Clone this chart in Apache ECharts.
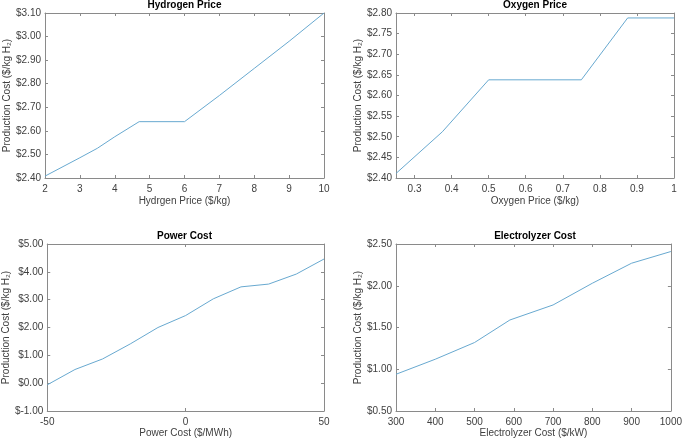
<!DOCTYPE html>
<html>
<head>
<meta charset="utf-8">
<script src="https://cdn.jsdelivr.net/npm/echarts@6/dist/echarts.min.js"></script>
<style>html,body{margin:0;padding:0;background:#fff}#c{width:685px;height:439px}</style>
</head>
<body>
<div id="c"></div>
<script>
// ---- Data ----
const titles = ['Hydrogen Price', 'Oxygen Price', 'Power Cost', 'Electrolyzer Cost'];
const xNames = ['Hydrgen Price ($/kg)', 'Oxygen Price ($/kg)', 'Power Cost ($/MWh)', 'Electrolyzer Cost ($/kW)'];
const yName = 'Production Cost ($/kg H\u2082)';

const h2X = [2, 3, 3.5, 4, 4.7, 6, 7, 8, 9, 10];
const h2Y = [2.408, 2.486, 2.526, 2.575, 2.639, 2.639, 2.75, 2.865, 2.98, 3.10];

const o2X = [0.25, 0.375, 0.5, 0.625, 0.75, 0.875, 1.0];
const o2Y = [2.411, 2.512, 2.638, 2.638, 2.638, 2.788, 2.788];

const powX = [-50, -40, -30, -20, -10, 0, 10, 20, 30, 40, 50];
const powY = [-0.06, 0.49, 0.87, 1.41, 2.0, 2.43, 3.03, 3.46, 3.56, 3.92, 4.46];

const elX = [300, 400, 500, 590, 700, 800, 900, 1000];
const elY = [0.94, 1.12, 1.32, 1.59, 1.77, 2.03, 2.27, 2.41];

const xRanges = [[2, 10, 1], [0.25, 1, 0.1], [-50, 50, 50], [300, 1000, 100]];
const yRanges = [[2.4, 3.1, 0.1], [2.4, 2.8, 0.05], [-1, 5, 1], [0.5, 2.5, 0.5]];

// ---- Layout ----
const grids = [
  {left: 45, top: 13, width: 279, height: 165},
  {left: 396, top: 13, width: 278, height: 165},
  {left: 45, top: 244, width: 279, height: 167},
  {left: 396, top: 244, width: 278, height: 167}
];
const titleTops = [0, 0, 231, 231];
const yNameGaps = [28, 29, 31, 29];
const xNameGaps = [18, 18, 17, 17];

const FONT = 'Liberation Sans';
const TXT = '#404040';
const AX = '#8a8a8a';
const LINE = '#68a9d0';

const pairs = (xs, ys) => xs.map((x, i) => [x, ys[i]]);
const seriesData = [pairs(h2X, h2Y), pairs(o2X, o2Y), pairs(powX, powY), pairs(elX, elY)];

const xAxis = [], yAxis = [], series = [], title = [];
grids.forEach((g, i) => {
  const [xmin, xmax, xint] = xRanges[i];
  const [ymin, ymax, yint] = yRanges[i];
  const xTickOpt = (i === 1)
    ? {min: xmin, max: xmax, minInterval: xint, maxInterval: xint, splitNumber: 7}
    : {min: xmin, max: xmax, interval: xint};
  const base = {
    type: 'value', gridIndex: i, splitLine: {show: false},
    axisLine: {show: true, onZero: false, lineStyle: {color: AX, width: 1}},
    axisTick: {show: true, inside: true, length: 3, lineStyle: {color: AX}}
  };
  xAxis.push(Object.assign({}, base, xTickOpt, {
    position: 'bottom',
    name: xNames[i], nameLocation: 'middle', nameGap: xNameGaps[i],
    nameTextStyle: {color: TXT, fontSize: 10, fontFamily: FONT},
    axisLabel: {color: TXT, fontSize: 10, fontFamily: FONT, margin: 6,
      showMinLabel: i !== 1, hideOverlap: false,
      formatter: v => String(+(+v).toFixed(6))}
  }));
  xAxis.push(Object.assign({}, base, xTickOpt, {
    position: 'top', axisLabel: {show: false}
  }));
  const yTick = {min: ymin, max: ymax, interval: yint};
  yAxis.push(Object.assign({}, base, yTick, {
    position: 'left',
    name: yName, nameLocation: 'middle', nameGap: yNameGaps[i],
    nameTextStyle: {color: TXT, fontSize: 10, fontFamily: FONT},
    axisLabel: {color: TXT, fontSize: 10, fontFamily: FONT, margin: 4,
      formatter: v => '$' + v.toFixed(2)}
  }));
  yAxis.push(Object.assign({}, base, yTick, {
    position: 'right', axisLabel: {show: false}
  }));
  series.push({
    type: 'line', xAxisIndex: i * 2, yAxisIndex: i * 2,
    data: seriesData[i], showSymbol: false, symbol: 'none',
    lineStyle: {color: LINE, width: 1}, silent: true, animation: false
  });
  title.push({
    text: titles[i], left: g.left + g.width / 2, top: titleTops[i],
    textAlign: 'center', padding: 0,
    textStyle: {fontSize: 10, fontWeight: 'bold', color: '#000', fontFamily: FONT}
  });
});

const chart = echarts.init(document.getElementById('c'), null, {renderer: 'canvas'});
chart.setOption({
  animation: false,
  backgroundColor: '#fff',
  title: title,
  grid: grids.map(g => Object.assign({containLabel: false}, g)),
  xAxis: xAxis,
  yAxis: yAxis,
  series: series
});
</script>
</body>
</html>
